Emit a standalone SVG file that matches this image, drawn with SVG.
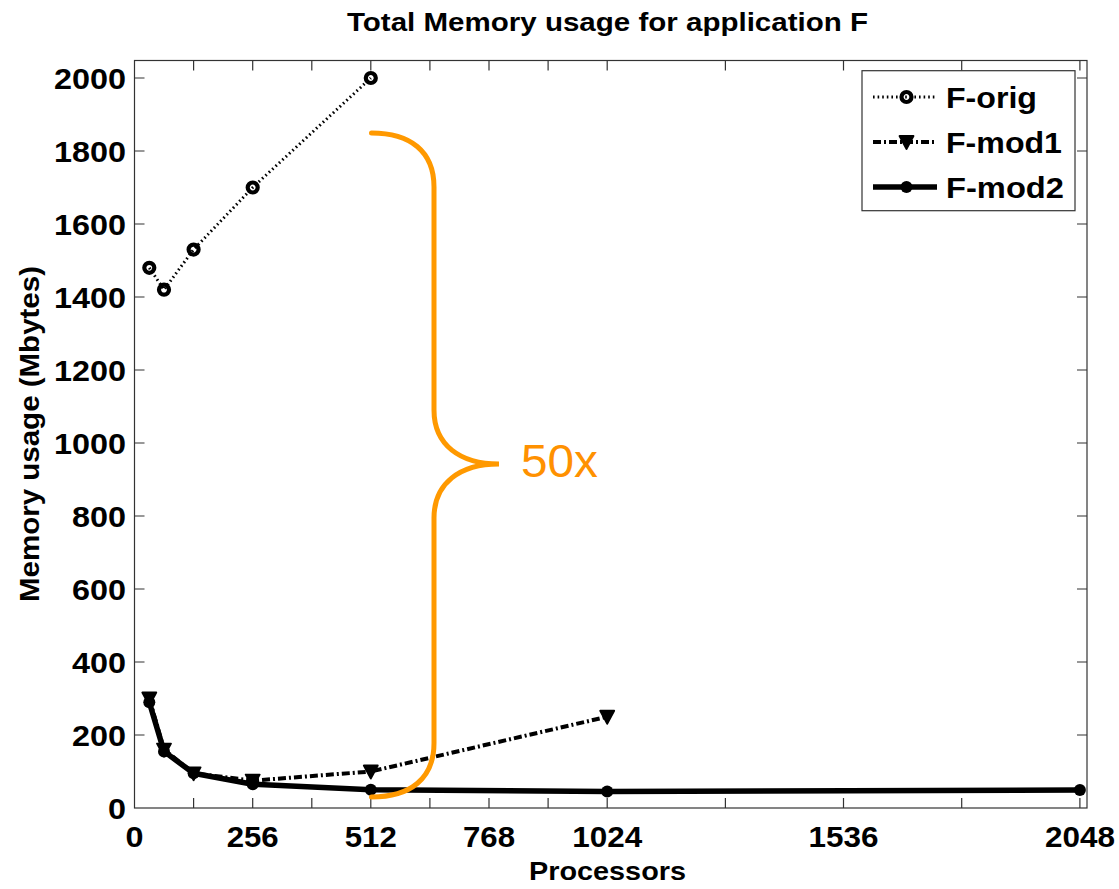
<svg xmlns="http://www.w3.org/2000/svg" xmlns:xlink="http://www.w3.org/1999/xlink" width="1119" height="889" viewBox="0 0 1119 889">
<style>
text{font-family:"Liberation Sans",Arial,Helvetica,sans-serif;fill:#000}
.b{font-weight:bold}
.tl{font-weight:bold;font-size:29.5px}
.ax{fill:none;stroke:#333;stroke-width:1.2}
.tk{stroke:#333;stroke-width:1.2}
.orig{fill:none;stroke:#000;stroke-width:3;stroke-dasharray:1.6 3}
.mod1{fill:none;stroke:#000;stroke-width:4;stroke-dasharray:8 3 2 3}
.mod2{fill:none;stroke:#000;stroke-width:5.5;stroke-linejoin:round}
.brace{fill:none;stroke:#ff9900;stroke-width:5;stroke-linecap:round}
</style>
<defs>
<circle id="mo" r="5" fill="none" stroke="#000" stroke-width="4.2"/>
<polygon id="mt" points="-7,-6 7,-6 0,7" fill="#000" stroke="#000" stroke-width="1.8" stroke-linejoin="round"/>
<circle id="md" r="6" fill="#000"/>
</defs>
<rect width="1119" height="889" fill="#fff"/>
<text id="title" class="b" x="607.5" y="31" font-size="25" text-anchor="middle" textLength="521" lengthAdjust="spacingAndGlyphs">Total Memory usage for application F</text>
<g id="axes">
<rect class="ax" x="134.5" y="60.5" width="952.5" height="747.5"/>
<g class="tk">
<path d="M193.6,808v-10M252.7,808v-10M311.8,808v-10M370.8,808v-10M429.9,808v-10M489,808v-10M548.1,808v-10M607.2,808v-10M725.4,808v-10M843.5,808v-10M961.7,808v-10M1079.9,808v-10"/>
<path d="M193.6,60.5v10M252.7,60.5v10M311.8,60.5v10M370.8,60.5v10M429.9,60.5v10M489,60.5v10M548.1,60.5v10M607.2,60.5v10M725.4,60.5v10M843.5,60.5v10M961.7,60.5v10M1079.9,60.5v10"/>
<path d="M134.5,735h10M134.5,662h10M134.5,589h10M134.5,516h10M134.5,443h10M134.5,370h10M134.5,297h10M134.5,224h10M134.5,151h10M134.5,78h10"/>
<path d="M1087,735h-10M1087,662h-10M1087,589h-10M1087,516h-10M1087,443h-10M1087,370h-10M1087,297h-10M1087,224h-10M1087,151h-10M1087,78h-10"/>
</g>
<g class="tl" text-anchor="end">
<text x="126" y="818.5" textLength="18" lengthAdjust="spacingAndGlyphs">0</text>
<text x="126" y="745.5" textLength="54" lengthAdjust="spacingAndGlyphs">200</text>
<text x="126" y="672.5" textLength="54" lengthAdjust="spacingAndGlyphs">400</text>
<text x="126" y="599.5" textLength="54" lengthAdjust="spacingAndGlyphs">600</text>
<text x="126" y="526.5" textLength="54" lengthAdjust="spacingAndGlyphs">800</text>
<text x="126" y="453.5" textLength="72" lengthAdjust="spacingAndGlyphs">1000</text>
<text x="126" y="380.5" textLength="72" lengthAdjust="spacingAndGlyphs">1200</text>
<text x="126" y="307.5" textLength="72" lengthAdjust="spacingAndGlyphs">1400</text>
<text x="126" y="234.5" textLength="72" lengthAdjust="spacingAndGlyphs">1600</text>
<text x="126" y="161.5" textLength="72" lengthAdjust="spacingAndGlyphs">1800</text>
<text x="126" y="88.5" textLength="72" lengthAdjust="spacingAndGlyphs">2000</text>
</g>
<g class="tl" text-anchor="middle">
<text x="134.5" y="847" textLength="18" lengthAdjust="spacingAndGlyphs">0</text>
<text x="252.7" y="847" textLength="52" lengthAdjust="spacingAndGlyphs">256</text>
<text x="370.8" y="847" textLength="52" lengthAdjust="spacingAndGlyphs">512</text>
<text x="489" y="847" textLength="52" lengthAdjust="spacingAndGlyphs">768</text>
<text x="607.2" y="847" textLength="70" lengthAdjust="spacingAndGlyphs">1024</text>
<text x="843.5" y="847" textLength="70" lengthAdjust="spacingAndGlyphs">1536</text>
<text x="1079.9" y="847" textLength="70" lengthAdjust="spacingAndGlyphs">2048</text>
</g>
<text class="b" x="607.5" y="880" font-size="26" text-anchor="middle" textLength="157" lengthAdjust="spacingAndGlyphs">Processors</text>
<text class="b" transform="translate(39,434) rotate(-90)" x="0" y="0" font-size="27" text-anchor="middle" textLength="336" lengthAdjust="spacingAndGlyphs">Memory usage (Mbytes)</text>
</g>
<g id="connectors">
<polyline id="F-orig-line" class="orig" points="149.3,267.8 164,289.7 193.6,249.55 252.7,187.5 370.8,78"/>
<polyline id="F-mod1-line" class="mod1" points="149.3,698.5 164,749.6 193.6,773.3 252.7,780.6 370.8,771.5 607.2,716.75"/>
<polyline id="F-mod2-line" class="mod2" points="149.3,702.2 164,751.4 193.6,773.3 252.7,784.3 370.8,789.75 607.2,791.6 1079.9,790"/>
</g>
<g id="F-orig">
<use xlink:href="#mo" x="149.3" y="267.8"/>
<use xlink:href="#mo" x="164" y="289.7"/>
<use xlink:href="#mo" x="193.6" y="249.55"/>
<use xlink:href="#mo" x="252.7" y="187.5"/>
<use xlink:href="#mo" x="370.8" y="78"/>
</g>
<g id="F-mod1">
<use xlink:href="#mt" x="149.3" y="698.5"/>
<use xlink:href="#mt" x="164" y="749.6"/>
<use xlink:href="#mt" x="193.6" y="773.3"/>
<use xlink:href="#mt" x="252.7" y="780.6"/>
<use xlink:href="#mt" x="370.8" y="771.5"/>
<use xlink:href="#mt" x="607.2" y="716.75"/>
</g>
<g id="F-mod2">
<use xlink:href="#md" x="149.3" y="702.2"/>
<use xlink:href="#md" x="164" y="751.4"/>
<use xlink:href="#md" x="193.6" y="773.3"/>
<use xlink:href="#md" x="252.7" y="784.3"/>
<use xlink:href="#md" x="370.8" y="789.75"/>
<use xlink:href="#md" x="607.2" y="791.6"/>
<use xlink:href="#md" x="1079.9" y="790"/>
</g>
<g id="legend">
<rect x="862" y="70.7" width="213" height="140" fill="#fff" stroke="#333" stroke-width="1.2"/>
<line class="orig" x1="873" y1="97" x2="937" y2="97"/>
<use xlink:href="#mo" x="906.5" y="97"/>
<text class="tl" x="946" y="108" textLength="91" lengthAdjust="spacingAndGlyphs">F-orig</text>
<line class="mod1" x1="873" y1="142" x2="937" y2="142"/>
<use xlink:href="#mt" x="906.5" y="142"/>
<text class="tl" x="946" y="153" textLength="116" lengthAdjust="spacingAndGlyphs">F-mod1</text>
<line class="mod2" x1="873" y1="187" x2="937" y2="187" stroke-width="4"/>
<use xlink:href="#md" x="906.5" y="187"/>
<text class="tl" x="946" y="198" textLength="118" lengthAdjust="spacingAndGlyphs">F-mod2</text>
</g>
<g id="brace">
<path class="brace" d="M371.5,133 C410,133 434,151 434,187 L434,410 C434,445 460,464 499,464 C460,464 434,483 434,518 L434,743 C434,779 410,797 371.5,797"/>
<text x="521" y="477" font-size="46" fill="#ff9100" style="fill:#ff9100" textLength="77" lengthAdjust="spacingAndGlyphs">50x</text>
</g>
</svg>
